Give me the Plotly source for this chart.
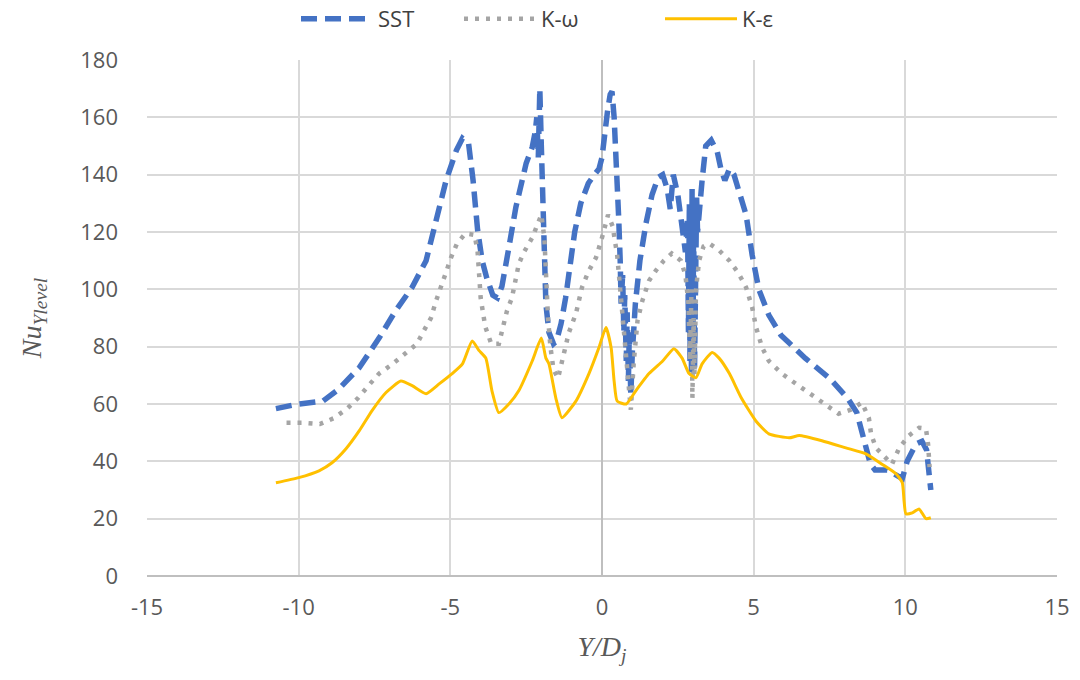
import plotly.graph_objects as go

sst_x = [-10.75, -10.0, -9.2, -8.7, -8.0, -7.35, -6.8, -6.26, -5.8, -5.47, -5.14, -4.8, -4.6, -4.4,
         -4.25, -4.1, -3.95, -3.8, -3.6, -3.45, -3.3, -3.07, -2.84, -2.5, -2.3, -2.2, -2.15, -2.1, -2.05,
         -2.0, -1.95, -1.9, -1.85, -1.75, -1.6, -1.5, -1.35, -1.2, -1.05, -0.9, -0.7, -0.45, -0.25, -0.1,
         0.0, 0.08, 0.18, 0.27, 0.33, 0.4, 0.45, 0.5, 0.55, 0.6, 0.63, 0.68, 0.72, 0.75, 0.8, 0.83, 0.87,
         0.9, 0.95, 1.0, 1.1, 1.25, 1.45, 1.65, 1.85, 2.0, 2.15, 2.25, 2.35, 2.5, 2.65, 2.75, 2.82,
         2.85, 2.88, 2.9, 2.93, 2.95, 2.97, 3.0, 3.02, 3.05, 3.07, 3.1, 3.12, 3.15, 3.2, 3.3, 3.42,
         3.6, 3.8, 3.92, 4.05, 4.2, 4.35, 4.5, 4.75, 4.95, 5.17, 5.5, 5.9, 6.2, 6.7, 7.5, 8.1, 8.4,
         8.55, 8.7, 8.85, 9.0, 9.4, 9.9, 10.06, 10.35, 10.55, 10.7, 10.78, 10.84]
sst_y = [58.4, 60, 61, 65, 72.7, 83, 92.6, 100.7, 110, 124, 138, 148.5, 152.7, 151,
         138, 120.6, 110, 104, 98, 97, 101, 114.6, 128.6, 144, 149.6, 155, 160, 146, 170,
         150, 130, 110, 95, 85, 81, 82, 88, 97, 108, 120, 130, 137, 140, 142,
         146, 155, 162, 168, 169, 160, 150, 140, 125, 110, 95, 105, 85, 98, 75, 92, 68,
         85, 63, 78, 95, 110, 123, 133, 139, 140, 135, 128, 140, 133, 120, 113, 125,
         85, 130, 75, 120, 70, 135, 80, 125, 72, 110, 90, 132, 120, 128, 138, 150,
         152, 148, 142, 138, 142, 140, 135, 126, 112, 100, 91, 84, 81, 76, 69, 62, 57,
         51, 45, 39, 37, 37, 34, 40, 46, 47, 44, 36, 30]

kw_x = [-10.4, -9.9, -9.3, -8.85, -8.4, -8.05, -7.7, -7.35, -6.9, -6.5, -6.1, -5.87, -5.64, -5.47,
        -5.3, -5.14, -4.98, -4.78, -4.5, -4.2, -4.1, -4.05, -4.0, -3.85, -3.65, -3.4, -3.25, -3.13,
        -2.97, -2.84, -2.74, -2.57, -2.3, -2.15, -2.0, -1.9, -1.85, -1.78, -1.7, -1.6, -1.45, -1.25,
        -1.09, -0.86, -0.66, -0.43, -0.2, 0.0, 0.2, 0.35, 0.5, 0.6, 0.7, 0.8, 0.88, 0.95, 1.05, 1.17,
        1.33, 1.55, 1.78, 2.04, 2.3, 2.6, 2.75, 2.85, 2.9, 2.95, 2.98, 3.02, 3.05, 3.1, 3.2, 3.35,
        3.53, 3.86, 4.2, 4.5, 4.75, 4.95, 5.08, 5.28, 5.5, 5.93, 6.4, 6.93, 7.38, 7.8, 8.2, 8.57,
        8.8, 8.87, 9.03, 9.36, 9.56, 9.8, 10.12, 10.45, 10.68, 10.75, 10.8]
kw_y = [53.5, 53.5, 53, 55, 58.4, 62, 66.4, 70.6, 74, 77.6, 81, 85.6, 90, 96,
        100.7, 106, 111, 116, 119.5, 119, 113, 107, 97, 87, 81, 81, 86.7, 92.6,
        97, 103, 109, 113, 118, 122, 126, 118, 105, 90, 80, 72, 69, 78,
        85, 91.5, 100.7, 106.6, 111, 118, 126, 122, 112, 100, 88, 78, 67, 58, 75, 89,
        96, 103, 106.6, 110, 112.5, 110, 105, 95, 75, 100, 62, 90, 70, 100, 110, 115,
        116, 113.6, 110, 105.6, 100.7, 93.7, 86.7, 79.7, 75, 70.6, 67, 63, 59.4, 56.6, 58, 60.5,
        55, 49.6, 44.7, 41.2, 39, 44.7, 49, 51.7, 51.4, 46, 38]

ke_x = [-10.75, -10.0, -9.33, -8.9, -8.44, -8.0, -7.58, -7.12, -6.63, -6.26, -5.8, -5.37, -4.94,
        -4.6, -4.28, -4.05, -3.83, -3.63, -3.4, -3.07, -2.74, -2.3, -2.0, -1.85, -1.75, -1.52, -1.32,
        -0.86, -0.43, -0.1, 0.13, 0.3, 0.4, 0.5, 0.8, 1.12, 1.55, 2.0, 2.37, 2.64, 2.87, 3.1, 3.3,
        3.63, 3.86, 4.2, 4.6, 5.08, 5.5, 6.17, 6.5, 7.25, 8.04, 8.7, 9.23, 9.7, 9.9, 9.96, 10.02,
        10.23, 10.45, 10.68, 10.84]
ke_y = [32.5, 34.3, 36.7, 39.5, 44.4, 50.7, 57.7, 64, 68, 66.4, 63.6, 67, 70.6,
        74, 82, 78.6, 76, 64.7, 57, 60, 64.7, 75, 83, 76, 74, 62, 55.2,
        61, 70.6, 79.7, 86.7, 79.7, 68, 61, 60, 64.7, 70.6, 75, 79.3, 76, 70.6, 69.2, 74,
        78, 76, 70.6, 62, 54, 49.6, 48.2, 49, 47.2, 44.7, 42.6, 39, 35.6, 32.5, 26, 21.7,
        22, 23.4, 20, 20.3]

x_ticks = [-15, -10, -5, 0, 5, 10, 15]
y_ticks = [0, 20, 40, 60, 80, 100, 120, 140, 160, 180]

fig = go.Figure()
fig.add_trace(go.Scatter(x=sst_x, y=sst_y, mode="lines", name="SST", legend="legend",
                         line=dict(color="#4472C4", width=5.5, dash="16px,8px")))
fig.add_trace(go.Scatter(x=kw_x, y=kw_y, mode="lines", name="K-ω", legend="legend2",
                         line=dict(color="#A5A5A5", width=4.5, dash="4px,7px")))
fig.add_trace(go.Scatter(x=ke_x, y=ke_y, mode="lines", name="K-ε", legend="legend3",
                         line=dict(color="#FFC000", width=3, shape="spline", smoothing=0.5)))

legfont = dict(family="Open Sans", size=22, color="#404040")


def leg(xpx):
    return dict(orientation="h", xref="container", x=xpx / 1080, xanchor="left",
                yref="container", y=1 - 19 / 680, yanchor="middle",
                font=legfont, itemwidth=72, bgcolor="rgba(0,0,0,0)")


tickfont = dict(family="Open Sans", size=22, color="#595959")
fig.update_layout(
    width=1080, height=680,
    margin=dict(l=147, r=23, t=60, b=104, autoexpand=False),
    paper_bgcolor="white", plot_bgcolor="white",
    showlegend=True,
    legend=leg(296), legend2=leg(459), legend3=leg(660),
    xaxis=dict(range=[-15, 15], tickvals=x_ticks, ticktext=[str(v) for v in x_ticks],
               showgrid=True, gridcolor="#D9D9D9", gridwidth=1.5,
               zeroline=True, zerolinecolor="#BFBFBF", zerolinewidth=1.5,
               showline=False, ticks="", tickfont=tickfont, ticklabelstandoff=16,
               title=dict(text="<i>Y/D<sub>j</sub></i>", standoff=16,
                          font=dict(family="Liberation Serif", size=28, color="#595959"))),
    yaxis=dict(range=[0, 180], tickvals=y_ticks, ticktext=[str(v) for v in y_ticks],
               showgrid=True, gridcolor="#D9D9D9", gridwidth=1.5,
               zeroline=True, zerolinecolor="#BFBFBF", zerolinewidth=1.5,
               showline=False, ticks="", tickfont=tickfont, ticklabelstandoff=28,
               title=dict(text="<i>Nu<sub>Ylevel</sub></i>", standoff=30,
                          font=dict(family="Liberation Serif", size=28, color="#595959"))),
)

fig.write_html("out.html")
